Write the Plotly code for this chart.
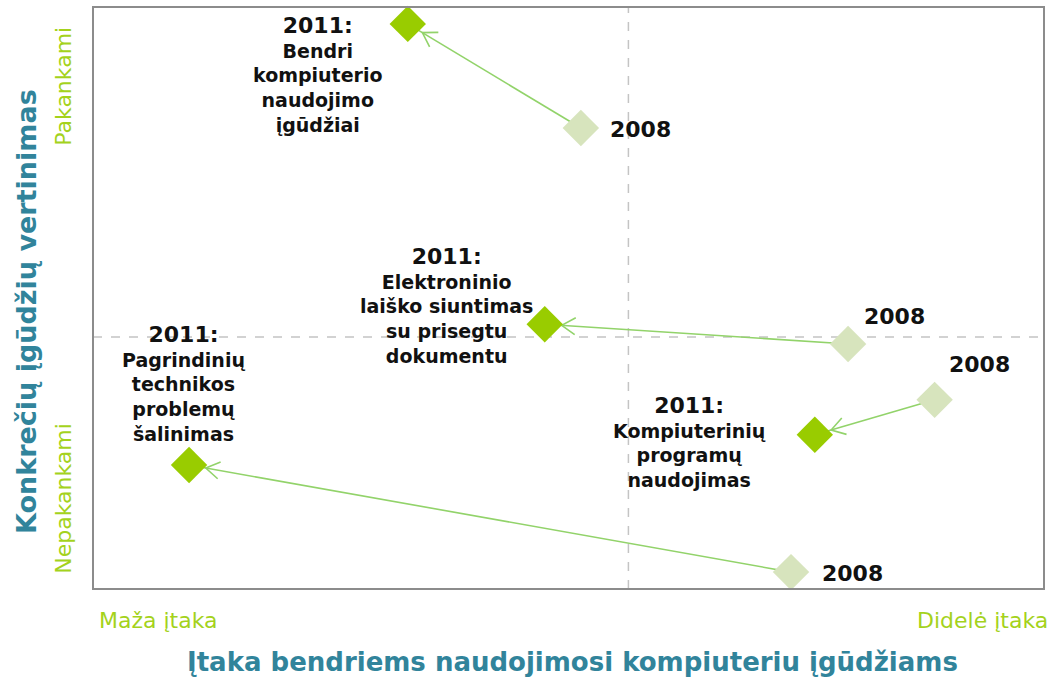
import math
import plotly.graph_objects as go

# ---- data (0..10 scales) ----
skills = ["Bendri", "Elektroninio", "Programų", "Technikos"]
labels_2011 = [
    "Bendri<br>kompiuterio<br>naudojimo<br>įgūdžiai",
    "Elektroninio<br>laiško siuntimas<br>su prisegtu<br>dokumentu",
    "Kompiuterinių<br>programų<br>naudojimas",
    "Pagrindinių<br>technikos<br>problemų<br>šalinimas",
]
year_new = "2011:"
year_old = "2008"
x_2008 = [5.13, 7.94, 8.85, 7.34]
y_2008 = [7.92, 4.21, 3.25, 0.29]
x_2011 = [3.31, 4.75, 7.59, 1.01]
y_2011 = [9.71, 4.55, 2.65, 2.13]
x_divider = 5.63
y_divider = 4.33
x_low_label = "Maža įtaka"
x_high_label = "Didelė įtaka"
y_low_label = "Nepakankami"
y_high_label = "Pakankami"
x_title = "Įtaka bendriems naudojimosi kompiuteriu įgūdžiams"
y_title = "Konkrečių įgūdžių vertinimas"

# ---- layout geometry / styles ----
W, H = 1058, 678
ML, MR, MT, MB = 93, 14, 7, 89
PW, PH = W - ML - MR, H - MT - MB
XR, YR = (0, 10), (0, 10)
sx = PW / (XR[1] - XR[0])
sy = PH / (YR[1] - YR[0])

C2011 = "#99cc00"
C2008 = "#d7e4bd"
CARROW = "#92d36a"
CLABEL = "#a4d21c"
CTITLE = "#31849b"

fig = go.Figure()

# connecting lines and chevron arrowheads
for i in range(len(skills)):
    fig.add_trace(go.Scatter(x=[x_2008[i], x_2011[i]], y=[y_2008[i], y_2011[i]],
                             mode="lines", line=dict(color=CARROW, width=1.6),
                             hoverinfo="skip", showlegend=False))
    dxp = (x_2008[i] - x_2011[i]) * sx
    dyp = (y_2008[i] - y_2011[i]) * sy
    L = math.hypot(dxp, dyp)
    ux, uy = dxp / L, dyp / L
    tipx, tipy = ux * 17, uy * 17
    xs, ys = [], []
    for sgn in (1, -1):
        a = math.radians(32) * sgn
        rx = ux * math.cos(a) - uy * math.sin(a)
        ry = ux * math.sin(a) + uy * math.cos(a)
        ex, ey = tipx + rx * 16, tipy + ry * 16
        xs += [x_2011[i] + ex / sx, x_2011[i] + tipx / sx]
        ys += [y_2011[i] + ey / sy, y_2011[i] + tipy / sy]
    fig.add_trace(go.Scatter(x=xs[:3], y=ys[:3], mode="lines",
                             line=dict(color=CARROW, width=1.6),
                             hoverinfo="skip", showlegend=False))

fig.add_trace(go.Scatter(x=x_2008, y=y_2008, mode="markers",
                         marker=dict(symbol="diamond", size=28, color=C2008),
                         showlegend=False, cliponaxis=False))
fig.add_trace(go.Scatter(x=x_2011, y=y_2011, mode="markers",
                         marker=dict(symbol="diamond", size=28, color=C2011),
                         showlegend=False, cliponaxis=False))

lab_font = dict(family="DejaVu Sans", size=19, color="#111111")
year_span = "<span style='font-size:22px'>%s</span>"
# 2011 labels: pixel offsets from the 2011 point
off_2011 = [(-90, -51), (-98, 19), (-125, -7), (-6, 82)]
for i in range(len(skills)):
    fig.add_annotation(x=x_2011[i], y=y_2011[i],
                       text="<b>" + year_span % year_new + "<br>" + labels_2011[i] + "</b>",
                       showarrow=False, xshift=off_2011[i][0], yshift=off_2011[i][1],
                       font=lab_font, align="center")
off_2008 = [(60, -1), (46, 27), (45, 35), (61, -1)]
for i in range(len(skills)):
    fig.add_annotation(x=x_2008[i], y=y_2008[i], text="<b>" + year_span % year_old + "</b>",
                       showarrow=False, xshift=off_2008[i][0], yshift=off_2008[i][1],
                       font=lab_font)

# dividers
fig.add_shape(type="line", x0=x_divider, x1=x_divider, y0=YR[0], y1=YR[1],
              line=dict(color="#c4c4c4", width=1.5, dash="dash"), layer="below")
fig.add_shape(type="line", x0=XR[0], x1=XR[1], y0=y_divider, y1=y_divider,
              line=dict(color="#c4c4c4", width=1.5, dash="dash"), layer="below")
fig.add_shape(type="rect", xref="paper", yref="paper", x0=0, x1=1, y0=0, y1=1,
              line=dict(color="#8c8c8c", width=2))

side_font = dict(family="DejaVu Sans", size=22, color=CLABEL)
fig.add_annotation(xref="paper", yref="paper", x=0, y=0, xanchor="left", yanchor="middle",
                   text=x_low_label, showarrow=False, font=side_font, xshift=4, yshift=-31)
fig.add_annotation(xref="paper", yref="paper", x=1, y=0, xanchor="right", yanchor="middle",
                   text=x_high_label, showarrow=False, font=side_font, xshift=6, yshift=-31)
fig.add_annotation(xref="paper", yref="paper", x=0, y=0.863, xanchor="center", yanchor="middle",
                   text=y_high_label, showarrow=False, textangle=-90,
                   font=side_font, xshift=-29)
fig.add_annotation(xref="paper", yref="paper", x=0, y=0.155, xanchor="center", yanchor="middle",
                   text=y_low_label, showarrow=False, textangle=-90,
                   font=side_font, xshift=-29)
fig.add_annotation(xref="paper", yref="paper", x=0.5, y=0, xanchor="center", yanchor="middle",
                   text="<b>" + x_title + "</b>", showarrow=False,
                   font=dict(family="DejaVu Sans", size=26, color=CTITLE), xshift=4, yshift=-73)
fig.add_annotation(xref="paper", yref="paper", x=0, y=0.476, xanchor="center", yanchor="middle",
                   text="<b>" + y_title + "</b>", showarrow=False, textangle=-90,
                   font=dict(family="DejaVu Sans", size=27, color=CTITLE), xshift=-66)

fig.update_xaxes(range=list(XR), visible=False, fixedrange=True)
fig.update_yaxes(range=list(YR), visible=False, fixedrange=True)
fig.update_layout(width=W, height=H, margin=dict(l=ML, r=MR, t=MT, b=MB),
                  plot_bgcolor="white", paper_bgcolor="white", showlegend=False)
fig.write_html("out.html", config={"displayModeBar": False},
               post_script="document.body.style.margin='0';document.body.style.overflow='hidden';")
